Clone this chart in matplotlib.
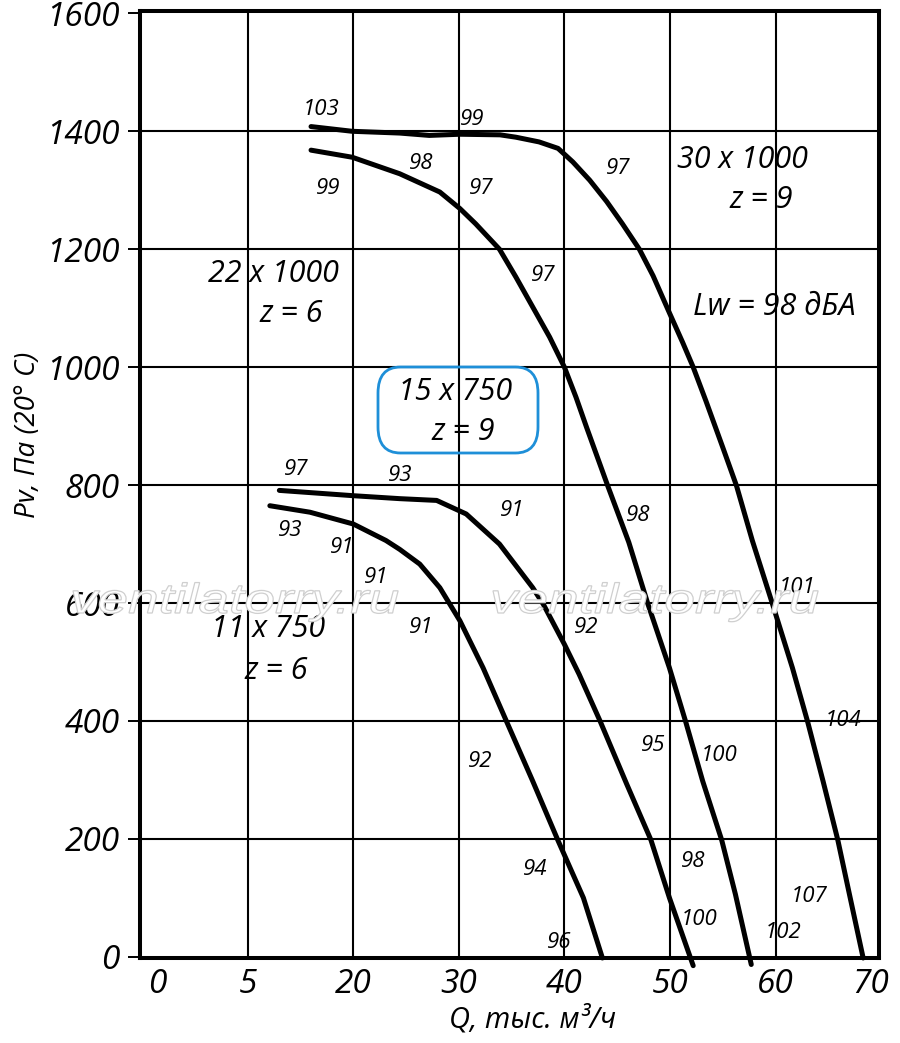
import matplotlib
matplotlib.use('Agg')
import matplotlib.pyplot as plt
from matplotlib.patches import FancyBboxPatch, PathPatch
from matplotlib.textpath import TextPath
from matplotlib.font_manager import FontProperties
from matplotlib.transforms import Affine2D, IdentityTransform

plt.rcParams['font.family'] = ['Open Sans', 'DejaVu Sans']
plt.rcParams['font.style'] = 'italic'

### Curve data (Q in thousand m3/h, Pv in Pa)
q_30x1000 = [16.0, 19.9, 24.4, 27.2, 30.1, 33.9, 35.4, 37.6, 39.4, 40.8, 42.4, 44.0, 45.5, 47.1,
             48.4, 49.95, 51.2, 52.2, 53.4, 55.0, 56.3, 57.8, 59.7, 61.6, 63.05, 64.5, 65.9, 67.0, 68.3]
p_30x1000 = [1408, 1400, 1397, 1393, 1395, 1394, 1390, 1382, 1371, 1348, 1317, 1281, 1243, 1200,
             1155, 1092, 1042, 1000, 943, 864, 799, 706, 599, 490, 398, 298, 198, 106, -2]

q_22x1000 = [16.0, 19.9, 24.4, 28.2, 30.1, 31.6, 33.85, 35.4, 37.0, 38.6, 40.0, 41.1, 42.1,
             44.1, 46.1, 47.9, 49.95, 51.5, 53.1, 54.9, 56.2, 57.7]
p_22x1000 = [1368, 1356, 1328, 1297, 1269, 1243, 1200, 1153, 1102, 1051, 1000, 949, 898,
             799, 703, 599, 490, 398, 298, 198, 106, -13]

q_15x750 = [13.0, 20.0, 24.4, 27.9, 30.7, 33.85, 37.0, 38.0, 40.0, 41.4, 43.4, 45.9, 48.2,
            49.95, 52.2]
p_15x750 = [791, 782, 777, 774, 751, 700, 626, 598, 530, 479, 399, 293, 198, 100, -15]

q_11x750 = [12.1, 15.9, 20.0, 23.1, 24.4, 26.3, 28.2, 30.1, 32.3, 34.5, 37.0, 39.4, 41.8, 43.6]
p_11x750 = [765, 754, 734, 706, 691, 666, 626, 570, 490, 400, 298, 197, 100, -2]

### Noise level labels along the curves
noise_x = [17.0, 17.6, 26.4, 31.3, 32.1, 45.1, 38.0, 14.6, 24.4, 14.0, 19.0, 22.2, 35.1,
           26.4, 42.1, 47.0, 62.0, 66.4, 32.0, 48.4, 54.7, 52.2, 37.2, 63.2, 52.8, 60.7, 39.5]
noise_y = [1437, 1303, 1345, 1420, 1303, 1337, 1155, 827, 816, 723, 694, 643, 757,
           558, 558, 748, 626, 400, 332, 358, 341, 162, 148, 103, 63, 41, 24]
noise_txt = ['103', '99', '98', '99', '97', '97', '97', '97', '93', '93', '91', '91', '91',
             '91', '92', '98', '101', '104', '92', '95', '100', '98', '94', '107', '100', '102', '96']

### Axis ticks
xtick_pos = [1.4, 10, 20, 30, 40, 50, 60, 69.0]
xtick_lbl = ['0', '5', '20', '30', '40', '50', '60', '70']
xgrid = [10, 20, 30, 40, 50, 60]
ytick_pos = [0, 200, 400, 600, 800, 1000, 1200, 1400, 1600]
ygrid = [200, 400, 600, 800, 1000, 1200, 1400]

fig = plt.figure(figsize=(9, 10.43), dpi=100)
ax = fig.add_axes([140 / 900, 85 / 1043, 739 / 900, 947 / 1043])
ax.set_xlim(-0.2, 69.8)
ax.set_ylim(-2, 1604)

### Watermarks (outlined, stretched text)
wm_font = FontProperties(family='Liberation Sans', size=42)
for left in [70, 490]:
    tp = TextPath((0, 0), 'ventilatorry.ru', prop=wm_font)
    tr = Affine2D().scale(1.31, 1.0).translate(left, 1043 - 613)
    fig.patches.append(PathPatch(tr.transform_path(tp), transform=IdentityTransform(),
                                 facecolor='white', edgecolor='#cfcfcf', lw=0.9, zorder=0))
ax.set_facecolor('none')

### Grid lines
for gx in xgrid:
    ax.axvline(gx, color='black', lw=1.5, zorder=1)
for gy in ygrid:
    ax.axhline(gy, color='black', lw=1.5, zorder=1)

### Curves
for qs, ps in [(q_30x1000, p_30x1000), (q_22x1000, p_22x1000),
               (q_15x750, p_15x750), (q_11x750, p_11x750)]:
    ax.plot(qs, ps, color='black', lw=3.6, solid_capstyle='round',
            solid_joinstyle='round', clip_on=False, zorder=3)

### Noise labels
for nx, ny, t in zip(noise_x, noise_y, noise_txt):
    ax.text(nx, ny, t, fontsize=16, ha='center', va='center', zorder=4)

### Fan labels
big = 22
ax.text(12.4, 1158, '22 x 1000', fontsize=big, ha='center', va='center', zorder=4)
ax.text(14.1, 1090, 'z = 6', fontsize=big, ha='center', va='center', zorder=4)
ax.text(56.9, 1351, '30 x 1000', fontsize=big, ha='center', va='center', zorder=4)
ax.text(58.6, 1283, 'z = 9', fontsize=big, ha='center', va='center', zorder=4)
ax.text(59.9, 1102, 'Lw = 98 дБА', fontsize=big, ha='center', va='center', zorder=4)
ax.text(29.6, 958, '15 x 750', fontsize=big, ha='center', va='center', zorder=4)
ax.text(30.4, 890, 'z = 9', fontsize=big, ha='center', va='center', zorder=4)
ax.text(11.9, 556, '11 x 750', fontsize=big, ha='center', va='center', zorder=4)
ax.text(12.7, 485, 'z = 6', fontsize=big, ha='center', va='center', zorder=4)

box = FancyBboxPatch((378 / 900, 1 - 453 / 1043), 160 / 900, 86 / 1043,
                     boxstyle='round,pad=0,rounding_size=0.025',
                     transform=fig.transFigure, facecolor='none',
                     edgecolor='#1E8FD8', lw=2.0, zorder=5)
fig.patches.append(box)

### Axes styling
for side in ['left', 'right', 'top', 'bottom']:
    ax.spines[side].set_linewidth(2.9)
    ax.spines[side].set_zorder(6)
ax.set_xticks(xtick_pos)
ax.set_xticklabels(xtick_lbl)
ax.set_yticks(ytick_pos)
ax.set_yticklabels([str(v) for v in ytick_pos])
ax.tick_params(axis='x', length=0, pad=7, labelsize=24)
ax.tick_params(axis='y', length=8.6, width=1.4, pad=6, labelsize=24)

fig.text(28 / 900, 1 - 435 / 1043, 'Pv, Па (20° C)', rotation=90, fontsize=20,
         ha='center', va='center')
fig.text(533 / 900, 1 - 1020 / 1043, 'Q, тыс. м³/ч', fontsize=21, ha='center', va='center')

fig.savefig('out.png', dpi=100)
